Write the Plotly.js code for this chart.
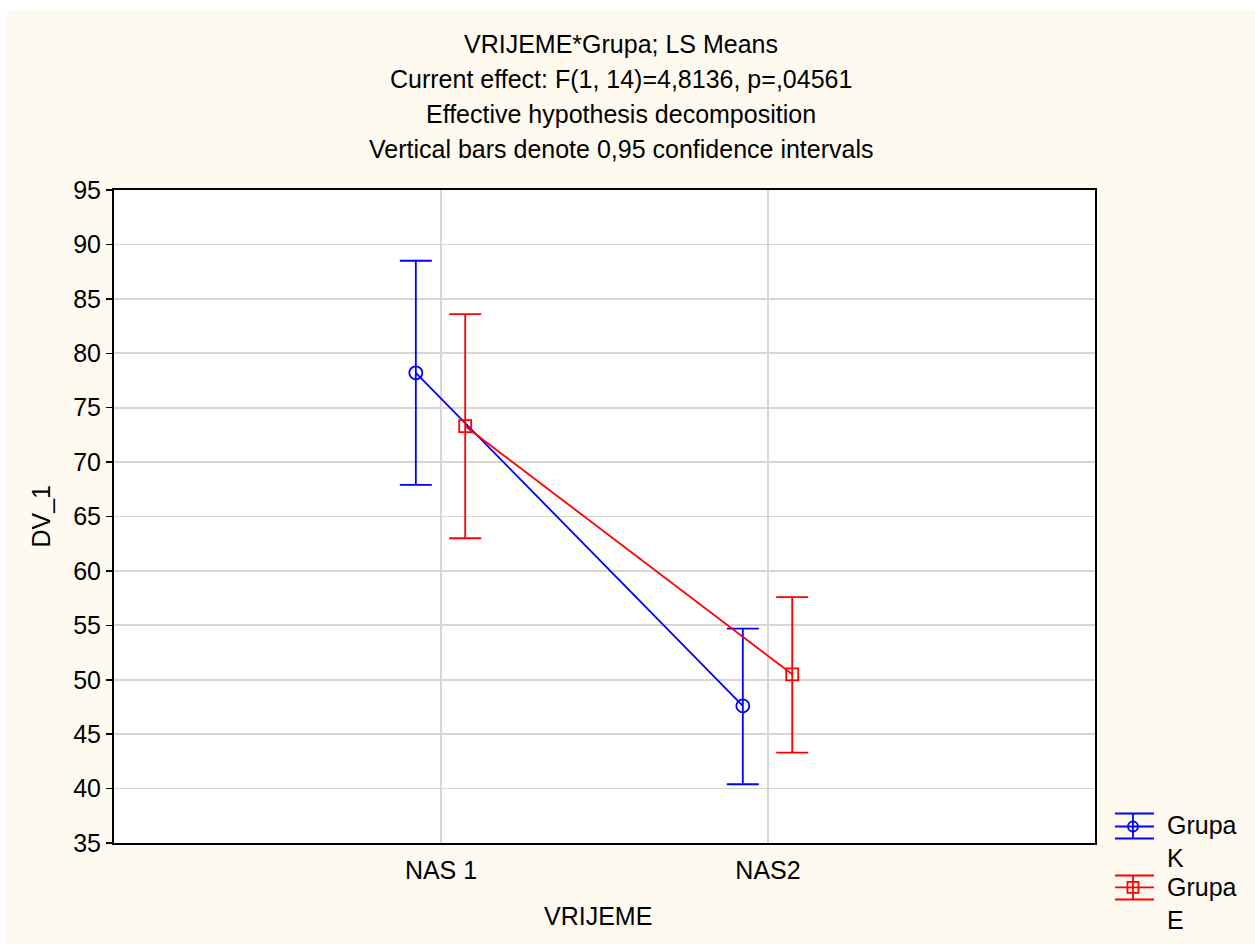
<!DOCTYPE html>
<html>
<head>
<meta charset="utf-8">
<script src="https://cdn.plot.ly/plotly-3.0.1.min.js"></script>
<style>
  html, body { margin: 0; padding: 0; background: #ffffff; }
  #chart { position: absolute; left: 7px; top: 10px; width: 1248px; height: 934px; }
</style>
</head>
<body>
<div id="chart"></div>
<script>
// ---- data ----
const categories = ['NAS 1', 'NAS2'];
const categoryPos = [1, 2];
const grupaK_mean  = [78.2, 47.6];
const grupaK_upper = [88.5, 54.7];
const grupaK_lower = [67.9, 40.4];
const grupaE_mean  = [73.3, 50.5];
const grupaE_upper = [83.6, 57.6];
const grupaE_lower = [63.0, 43.3];
const yTicks = [35, 40, 45, 50, 55, 60, 65, 70, 75, 80, 85, 90, 95];
const titleLines = [
  'VRIJEME*Grupa; LS Means',
  'Current effect: F(1, 14)=4,8136, p=,04561',
  'Effective hypothesis decomposition',
  'Vertical bars denote 0,95 confidence intervals'
];
const seriesNames = ['Grupa<br>K', 'Grupa<br>E'];

// ---- style ----
const FONT = '"Liberation Sans", Arial, sans-serif';
const FS = 25;
const BLUE = '#0000ff', RED = '#ff0000';
const offK = -0.077, offE = 0.074;

function errTrace(name, mean, up, lo, off, color, symbol, size) {
  return {
    type: 'scatter', mode: 'lines+markers', name: name,
    x: categoryPos.map(p => p + off),
    y: mean,
    line: { color: color, width: 1.8 },
    marker: { symbol: symbol, size: size, color: color, line: { color: color, width: 1.8 } },
    error_y: {
      type: 'data', symmetric: false,
      array: up.map((u, i) => u - mean[i]),
      arrayminus: lo.map((l, i) => mean[i] - l),
      color: color, thickness: 1.8, width: 16
    },
    showlegend: false,
    hoverinfo: 'x+y'
  };
}

const traces = [
  errTrace(seriesNames[0], grupaK_mean, grupaK_upper, grupaK_lower, offK, BLUE, 'circle-open', 13),
  errTrace(seriesNames[1], grupaE_mean, grupaE_upper, grupaE_lower, offE, RED, 'square-open', 12)
];

const titleY = [1.2236, 1.170, 1.1164, 1.0628];
const annotations = titleLines.map((t, i) => ({
  text: t, xref: 'paper', yref: 'paper', x: 0.517, y: titleY[i],
  xanchor: 'center', yanchor: 'middle', showarrow: false,
  font: { family: FONT, size: FS, color: '#000' }
}));
annotations.push({
  text: 'VRIJEME', xref: 'paper', yref: 'paper', x: 0.4934, y: -0.1118,
  xanchor: 'center', yanchor: 'middle', showarrow: false,
  font: { family: FONT, size: FS, color: '#000' }
});
annotations.push({
  text: 'DV_1', xref: 'paper', yref: 'paper', x: -0.0754, y: 0.5,
  xanchor: 'center', yanchor: 'middle', showarrow: false, textangle: -90,
  font: { family: FONT, size: FS, color: '#000' }
});

// manual legend (error-bar style icons)
const legendItems = [
  { name: seriesNames[0], color: BLUE, cy: 0.0253, top: 0.0452, bot: 0.0069, ty: 0.0023, kind: 'circle' },
  { name: seriesNames[1], color: RED,  cy: -0.0681, top: -0.0498, bot: -0.0865, ty: -0.0926, kind: 'rect' }
];
const lx0 = 1.0204, lx1 = 1.0601, lxc = 1.0387;
const shapes = [];
legendItems.forEach(it => {
  const ln = { color: it.color, width: 1.8 };
  shapes.push({ type: 'line', xref: 'paper', yref: 'paper', x0: lx0, x1: lx1, y0: it.cy, y1: it.cy, line: ln });
  shapes.push({ type: 'line', xref: 'paper', yref: 'paper', x0: lx0, x1: lx1, y0: it.top, y1: it.top, line: ln });
  shapes.push({ type: 'line', xref: 'paper', yref: 'paper', x0: lx0, x1: lx1, y0: it.bot, y1: it.bot, line: ln });
  shapes.push({ type: 'line', xref: 'paper', yref: 'paper', x0: lxc, x1: lxc, y0: it.top, y1: it.bot, line: ln });
  const r = it.kind === 'circle' ? 5 : 5.5;
  shapes.push({ type: it.kind, xref: 'paper', yref: 'paper', xsizemode: 'pixel', ysizemode: 'pixel',
    xanchor: lxc, yanchor: it.cy, x0: -r, x1: r, y0: -r, y1: r,
    line: ln, fillcolor: 'rgba(0,0,0,0)' });
  annotations.push({
    text: it.name, xref: 'paper', yref: 'paper', x: 1.0714, y: it.ty,
    xanchor: 'left', yanchor: 'middle', align: 'left', showarrow: false,
    font: { family: FONT, size: FS, color: '#000' }
  });
});

const layout = {
  width: 1248, height: 934,
  margin: { l: 107, r: 160, t: 180, b: 101 },
  paper_bgcolor: '#fffaf0',
  plot_bgcolor: '#ffffff',
  font: { family: FONT, size: FS, color: '#000' },
  showlegend: false,
  xaxis: {
    range: [0, 3],
    tickmode: 'array', tickvals: categoryPos, ticktext: categories,
    ticks: '', ticklabelstandoff: 4, showgrid: true, gridcolor: '#d6d6d6', gridwidth: 1.8,
    zeroline: false, showline: true, mirror: true, linecolor: '#000', linewidth: 2,
    tickfont: { family: FONT, size: FS, color: '#000' }
  },
  yaxis: {
    range: [35, 95],
    tickmode: 'array', tickvals: yTicks,
    ticks: 'outside', ticklen: 6, tickwidth: 1.5, tickcolor: '#000',
    showgrid: true, gridcolor: '#d6d6d6', gridwidth: 1.8,
    zeroline: false, showline: true, mirror: true, linecolor: '#000', linewidth: 2,
    tickfont: { family: FONT, size: FS, color: '#000' }
  },
  annotations: annotations,
  shapes: shapes
};

Plotly.newPlot('chart', traces, layout, { displayModeBar: false, staticPlot: true });
</script>
</body>
</html>
